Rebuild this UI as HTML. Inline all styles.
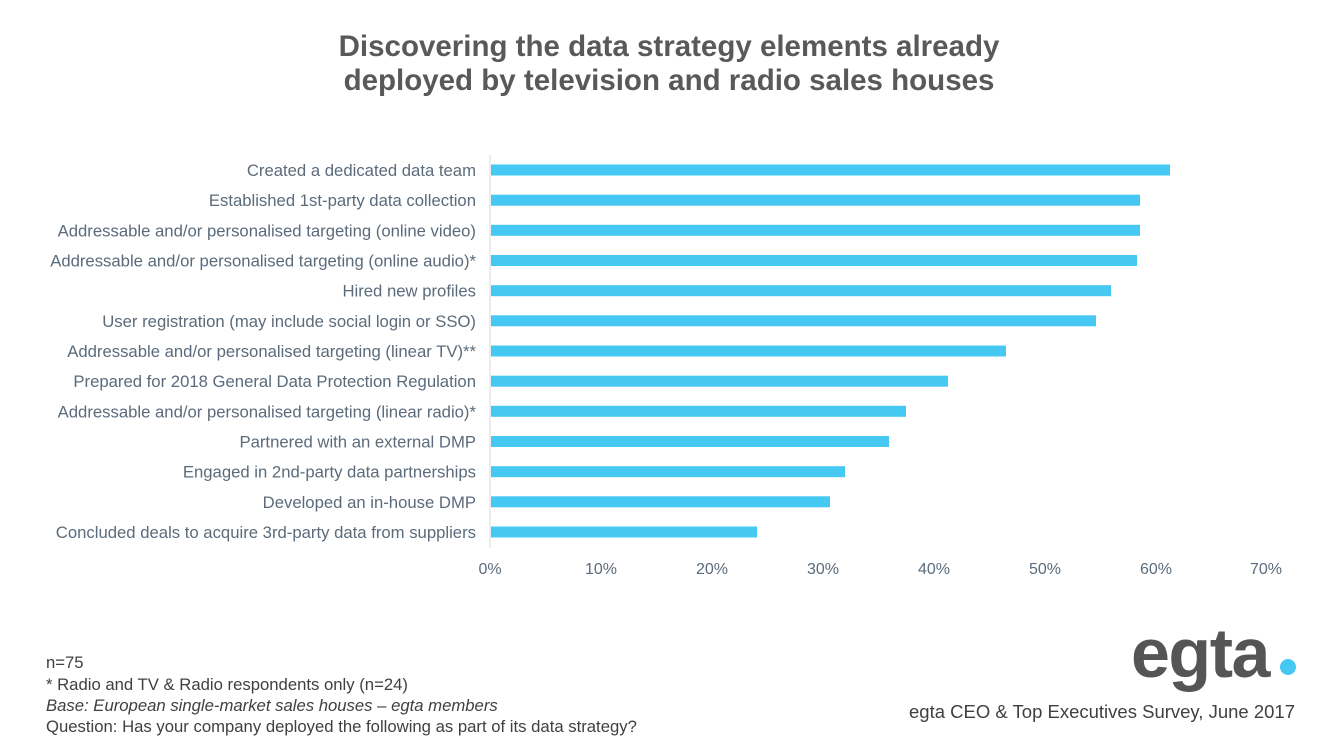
<!DOCTYPE html>
<html><head><meta charset="utf-8"><style>
body{margin:0;background:#fff;width:1339px;height:754px;overflow:hidden}
svg{display:block;font-family:"Liberation Sans",Arial,sans-serif}
</style></head><body>
<svg width="1339" height="754" viewBox="0 0 1339 754">
<text x="669" y="56" text-anchor="middle" font-size="29.5" font-weight="bold" fill="#595959">Discovering the data strategy elements already</text>
<text x="669" y="90" text-anchor="middle" font-size="29.5" font-weight="bold" fill="#595959">deployed by television and radio sales houses</text>
<line x1="490" y1="155" x2="490" y2="548" stroke="#d9d9d9" stroke-width="1"/>
<g fill="#45C8F2">
<rect x="491" y="164.5" width="679" height="11"/>
<rect x="491" y="194.7" width="649" height="11"/>
<rect x="491" y="224.8" width="649" height="11"/>
<rect x="491" y="255" width="646" height="11"/>
<rect x="491" y="285.2" width="620" height="11"/>
<rect x="491" y="315.3" width="605" height="11"/>
<rect x="491" y="345.5" width="515" height="11"/>
<rect x="491" y="375.7" width="457" height="11"/>
<rect x="491" y="405.8" width="415" height="11"/>
<rect x="491" y="436" width="398" height="11"/>
<rect x="491" y="466.2" width="354" height="11"/>
<rect x="491" y="496.3" width="339" height="11"/>
<rect x="491" y="526.5" width="266" height="11"/>
</g>
<g font-size="16.7" fill="#5b6b7b" text-anchor="end">
<text x="476" y="176">Created a dedicated data team</text>
<text x="476" y="206.2">Established 1st-party data collection</text>
<text x="476" y="236.3">Addressable and/or personalised targeting (online video)</text>
<text x="476" y="266.5">Addressable and/or personalised targeting (online audio)*</text>
<text x="476" y="296.7">Hired new profiles</text>
<text x="476" y="326.8">User registration (may include social login or SSO)</text>
<text x="476" y="357">Addressable and/or personalised targeting (linear TV)**</text>
<text x="476" y="387.2">Prepared for 2018 General Data Protection Regulation</text>
<text x="476" y="417.3">Addressable and/or personalised targeting (linear radio)*</text>
<text x="476" y="447.5">Partnered with an external DMP</text>
<text x="476" y="477.7">Engaged in 2nd-party data partnerships</text>
<text x="476" y="507.8">Developed an in-house DMP</text>
<text x="476" y="538">Concluded deals to acquire 3rd-party data from suppliers</text>
</g>
<g font-size="16" fill="#5b6b7b" text-anchor="middle">
<text x="490" y="574">0%</text>
<text x="601" y="574">10%</text>
<text x="712" y="574">20%</text>
<text x="823" y="574">30%</text>
<text x="934" y="574">40%</text>
<text x="1045" y="574">50%</text>
<text x="1156" y="574">60%</text>
<text x="1266" y="574">70%</text>
</g>
<g font-size="16.7" fill="#404040">
<text x="46" y="668">n=75</text>
<text x="46" y="690">* Radio and TV &amp; Radio respondents only (n=24)</text>
<text x="46" y="711" font-style="italic">Base: European single-market sales houses – egta members</text>
<text x="46" y="732">Question: Has your company deployed the following as part of its data strategy?</text>
</g>
<text x="1131" y="677" font-size="70" font-weight="bold" fill="#555" letter-spacing="-1.5">egta</text>
<circle cx="1288" cy="667" r="8" fill="#45C8F2"/>
<text x="1295" y="718" text-anchor="end" font-size="18.5" fill="#404040">egta CEO &amp; Top Executives Survey, June 2017</text>
</svg>
</body></html>
